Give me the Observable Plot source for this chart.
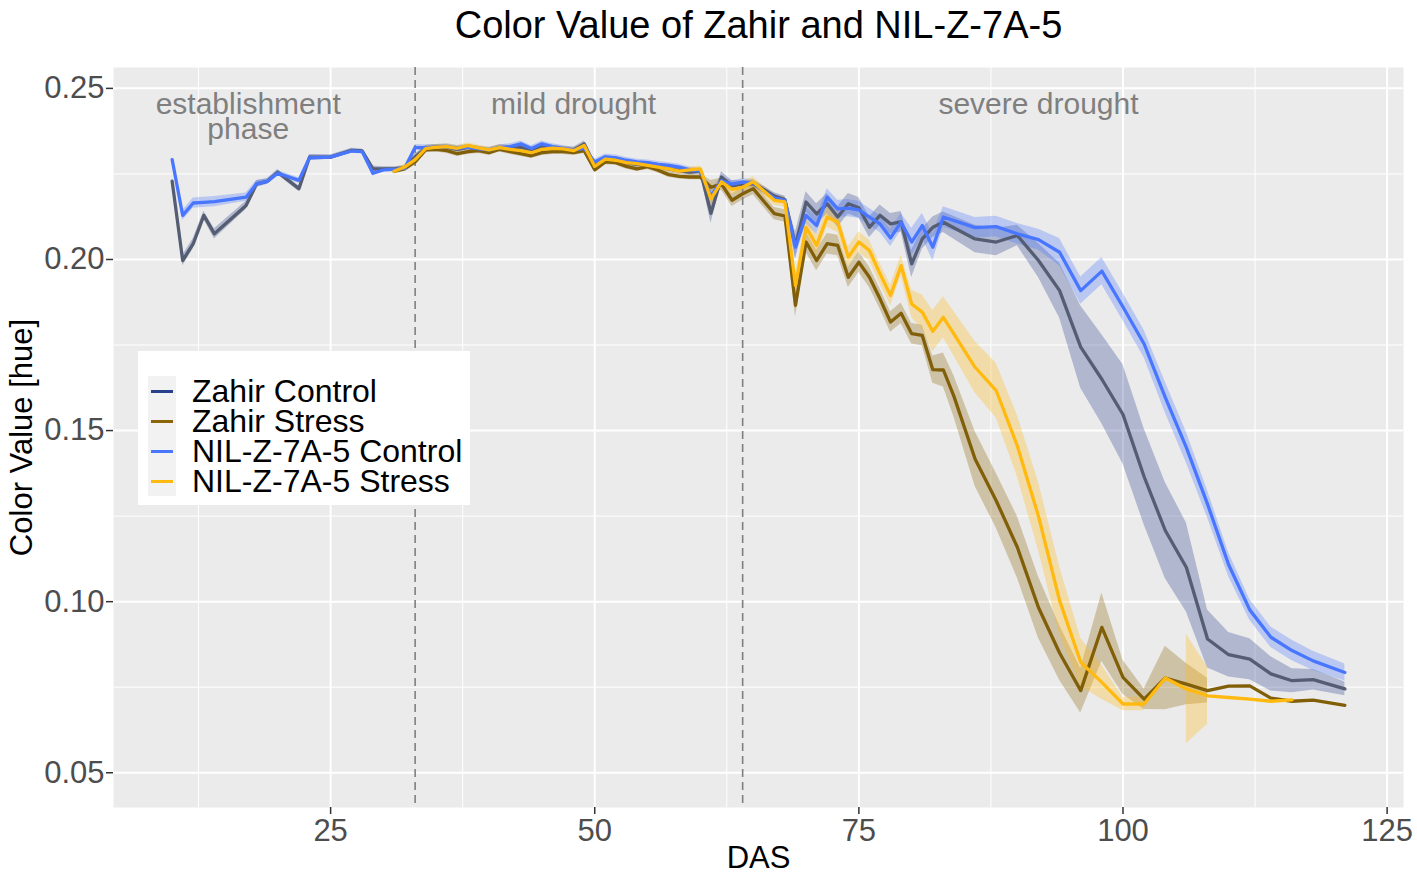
<!DOCTYPE html>
<html><head><meta charset="utf-8">
<script src="https://cdn.jsdelivr.net/npm/d3@7"></script>
<script src="https://cdn.jsdelivr.net/npm/@observablehq/plot@0.6"></script>
<style>
html,body{margin:0;padding:0;background:#fff;}
#wrap{position:relative;width:1417px;height:879px;font-family:"Liberation Sans",Arial,sans-serif;}
#wrap svg{display:block;}
#legend{position:absolute;left:138px;top:351px;width:332px;height:154px;background:#fff;}
#legend .keybg{position:absolute;left:10px;top:25px;width:28px;height:120px;background:#F2F2F2;}
#legend .row{position:absolute;left:0;height:30px;width:332px;}
#legend .sw{position:absolute;left:13px;top:13.5px;width:22px;height:3px;}
#legend .lab{position:absolute;left:54px;top:0;height:30px;line-height:30px;font-size:32px;color:#000;white-space:nowrap;}
</style></head>
<body><div id="wrap"></div>
<script>
const das = [10,11,12,13,14,17,18,19,20,22,23,25,27,28,29,30,31,32,
 33,34,35,36,37,38,39,40,41,42,43,44,45,46,47,48,49,50,51,52,53,54,55,56,57,58,59,60,61,62,63,64,65,66,67,68,69,70,71,72,73,74,75,76,77,78,79,80,81,82,83,84,
 86,88,90,92,94,96,98,100,102,104,106,108,110,112,114,116,118,121];

const zahirControl = [.2229,.1997,.2046,.2129,.2075,.2158,.2221,.2228,.2255,.2207,.2299,.2299,.2319,.2317,.2265,.2265,.2265,.2268,
 .2300,.2325,.2328,.2328,.2322,.2328,.2323,.2318,.2327,.2325,.2328,.2318,.2332,.2325,.2322,.2320,.2338,.2275,.2295,.2292,.2283,.2278,.2278,.2272,.2265,.2260,.2255,.2258,.2135,.2241,.2215,.2220,.2222,.2205,.2185,.2175,.2040,.2168,.2133,.2163,.2124,.2163,.2151,.2094,.2129,.2104,.2110,.1987,.2060,.2094,.2109,null,
 .2060,.2051,.2070,.1997,.1909,.1744,.1650,.1547,.1365,.1208,.1100,.0891,.0845,.0832,.0789,.0769,.0772,.0745];
const zahirStress = [null,null,null,null,null,null,null,null,null,null,null,null,null,null,null,null,.2258,.2265,
 .2285,.2320,.2322,.2318,.2309,.2315,.2318,.2312,.2322,.2315,.2309,.2303,.2312,.2315,.2315,.2312,.2318,.2262,.2285,.2283,.2272,.2265,.2271,.2261,.2248,.2243,.2241,.2241,.2211,.2220,.2173,.2192,.2207,.2170,.2134,.2127,.1866,.2051,.1997,.2046,.2041,.1948,.1992,.1948,.1885,.1817,.1843,.1783,.1778,.1678,.1677,.1600,
 .1417,.1295,.1159,.0983,.0850,.0740,.0925,.0779,.0715,.0777,.0759,.0740,.0753,.0754,.0718,.0709,.0712,.0697];
const nilControl = [.2292,.2129,.2165,.2167,.2169,.2182,.2221,.2228,.2252,.2231,.2297,.2299,.2317,.2315,.2252,.2262,.2263,.2266,
 .2327,.2327,.2328,.2330,.2325,.2328,.2323,.2320,.2327,.2330,.2338,.2324,.2338,.2330,.2325,.2320,.2325,.2285,.2300,.2297,.2290,.2285,.2283,.2278,.2275,.2270,.2262,.2258,.2185,.2230,.2220,.2226,.2224,.2200,.2180,.2173,.2036,.2129,.2099,.2182,.2148,.2150,.2145,.2124,.2104,.2063,.2109,.2051,.2099,.2036,.2124,null,
 .2093,.2096,.2075,.2058,.2021,.1909,.1966,.1861,.1753,.1597,.1450,.1285,.1108,.0976,.0896,.0857,.0827,.0793];
const nilStress = [null,null,null,null,null,null,null,null,null,null,null,null,null,null,null,null,.2258,.2270,
 .2292,.2324,.2328,.2330,.2325,.2333,.2326,.2320,.2327,.2322,.2318,.2312,.2322,.2325,.2323,.2318,.2333,.2272,.2293,.2290,.2283,.2280,.2275,.2270,.2265,.2258,.2262,.2265,.2177,.2227,.2205,.2211,.2227,.2200,.2173,.2168,.1924,.2094,.2041,.2124,.2109,.2007,.2051,.2026,.1958,.1895,.1982,.1870,.1846,.1790,.1831,null,
 .1685,.1617,.1455,.1250,.1003,.0823,.0764,.0701,.0701,.0777,.0745,.0725,.0720,.0715,.0709,.0713,null,null];

// ribbon half-widths (standard error)
const zahirControlSe = [.0005,.0015,.0015,.0012,.0015,.0012,.001,.0008,.0008,.0008,.0008,.0006,.0006,.0006,.0008,.0006,.0006,.0006,
 .0008,.0008,.0008,.0008,.0008,.0008,.0008,.0008,.0008,.0008,.0008,.0008,.0008,.0008,.0008,.0008,.0008,.0008,.0008,.0008,.0008,.0008,.0008,.0008,.0008,.0008,.0008,.0008,.003,.0015,.0015,.001,.001,.001,.001,.001,.004,.003,.003,.003,.003,.003,.003,.003,.003,.003,.003,.004,.003,.003,.003,null,
 .004,.004,.003,.005,.008,.012,.013,.0145,.014,.014,.013,.0085,.0065,.006,.005,.0035,.003,.002];
const zahirStressSe = [null,null,null,null,null,null,null,null,null,null,null,null,null,null,null,null,.0008,.0008,
 .0008,.0008,.0008,.0008,.0008,.0008,.0008,.0008,.0008,.0008,.0008,.0008,.0008,.0008,.0008,.0008,.0008,.0008,.0008,.0008,.0008,.0008,.0008,.0008,.0008,.0008,.0008,.0008,.002,.0018,.0018,.0018,.0018,.0018,.0018,.0018,.0035,.003,.003,.003,.003,.003,.003,.003,.003,.003,.003,.003,.003,.004,.005,.006,
 .008,.008,.009,.009,.008,.0065,.010,.005,.003,.0093,.006,.0036,null,null,null,null,null,null];
const nilControlSe = [.0008,.0015,.0015,.0015,.0015,.0012,.001,.0008,.0008,.0008,.0008,.0006,.0006,.0006,.0008,.0006,.0006,.0006,
 .0008,.0008,.0008,.0008,.0008,.0008,.0008,.0008,.0008,.0008,.0008,.0008,.0008,.0008,.0008,.0008,.0008,.0008,.0008,.0008,.0008,.0008,.0008,.0008,.0008,.0008,.0008,.0008,.002,.001,.001,.001,.001,.001,.001,.001,.003,.0025,.0025,.0025,.0025,.0025,.0025,.0025,.0025,.0025,.0025,.004,.0035,.004,.003,null,
 .003,.003,.003,.003,.004,.004,.004,.004,.004,.0045,.0045,.004,.0035,.003,.003,.003,.0028,.0025];
const nilStressSe = [null,null,null,null,null,null,null,null,null,null,null,null,null,null,null,null,.0008,.0008,
 .0008,.0008,.0008,.0008,.0008,.0008,.0008,.0008,.0008,.0008,.0008,.0008,.0008,.0008,.0008,.0008,.0008,.0008,.0008,.0008,.0008,.0008,.0008,.0008,.0008,.0008,.0008,.0008,.002,.0015,.0015,.0015,.0015,.0015,.0015,.0015,.003,.003,.003,.003,.003,.003,.003,.003,.003,.003,.003,.004,.005,.006,.006,null,
 .0075,.008,.009,.010,.010,.007,.005,.002,.002,null,.016,.0083,null,null,null,null,null,null];

const seriesNames = ["Zahir Control", "Zahir Stress", "NIL-Z-7A-5 Control", "NIL-Z-7A-5 Stress"];
const keyColors = ["#27408B", "#8B6508", "#4876FF", "#FFB90F"];
const lineColors = ["#555D72", "#815E08", "#4876FF", "#FFB90F"];

const xTicks = [25, 50, 75, 100, 125];
const xMinor = [12.5, 37.5, 62.5, 87.5, 112.5];
const yTicks = [0.05, 0.10, 0.15, 0.20, 0.25];
const yMinor = [0.075, 0.125, 0.175, 0.225];
const phaseBreaks = [33, 64];
const phaseLabels = ["establishment\nphase", "mild drought", "severe drought"];
const phaseLabelX = [17.2, 48, 92];
const phaseLabelY = [0.2477, 0.2477, 0.2477];
const titleText = "Color Value of Zahir and NIL-Z-7A-5";
const xTitle = "DAS";
const yTitle = "Color Value [hue]";

const means = [zahirControl, zahirStress, nilControl, nilStress];
const ses = [zahirControlSe, zahirStressSe, nilControlSe, nilStressSe];

const ribbonMarks = [], lineMarks = [];
seriesNames.forEach((name, k) => {
  const rows = das.map((d, i) => ({das: d, mean: means[k][i], se: ses[k][i]})).filter(r => r.mean != null);
  ribbonMarks.push(Plot.areaY(rows, {
    x: "das",
    y1: r => r.se == null ? null : r.mean - r.se,
    y2: r => r.se == null ? null : r.mean + r.se,
    fill: keyColors[k], fillOpacity: 0.3
  }));
  lineMarks.push(Plot.line(rows, {x: "das", y: "mean", stroke: lineColors[k], strokeWidth: 3.3, strokeLinejoin: "round"}));
});

const font = '"Liberation Sans", Arial, sans-serif';
const chart = Plot.plot({
  width: 1417, height: 879,
  marginLeft: 113, marginRight: 14, marginTop: 67, marginBottom: 72,
  style: {fontFamily: font, background: "#fff", overflow: "visible"},
  x: {domain: [4.45, 126.55]},
  y: {domain: [0.03985, 0.2561]},
  marks: [
    Plot.frame({fill: "#EBEBEB", stroke: null}),
    Plot.gridX(xMinor, {stroke: "#fff", strokeOpacity: 1, strokeWidth: 1}),
    Plot.gridY(yMinor, {stroke: "#fff", strokeOpacity: 1, strokeWidth: 1}),
    Plot.gridX(xTicks, {stroke: "#fff", strokeOpacity: 1, strokeWidth: 2}),
    Plot.gridY(yTicks, {stroke: "#fff", strokeOpacity: 1, strokeWidth: 2}),
    ...ribbonMarks,
    Plot.ruleX(phaseBreaks, {stroke: "#7F7F7F", strokeWidth: 1.6, strokeDasharray: "8,5"}),
    ...lineMarks,
    Plot.text(phaseLabels, {x: (d, i) => phaseLabelX[i], y: (d, i) => phaseLabelY[i], text: d => d,
      lineAnchor: "top", lineHeight: 0.83, fontSize: 30, fill: "#7F7F7F"}),
    Plot.axisX({ticks: xTicks, tickSize: 7, tickPadding: 4, fontSize: 31, fill: "#4D4D4D", stroke: "#333", strokeWidth: 1.5, label: null}),
    Plot.axisY({ticks: yTicks, tickFormat: d3.format(".2f"), tickSize: 7, tickPadding: 2, fontSize: 31, fill: "#4D4D4D", stroke: "#333", strokeWidth: 1.5, label: null}),
    Plot.text([xTitle], {frameAnchor: "bottom", lineAnchor: "middle", textAnchor: "middle", dy: 51, text: d => d, fontSize: 31, fill: "#000"}),
    Plot.text([yTitle], {frameAnchor: "left", lineAnchor: "middle", textAnchor: "middle", dx: -91, rotate: -90, text: d => d, fontSize: 31, fill: "#000"}),
    Plot.text([titleText], {frameAnchor: "top", lineAnchor: "middle", textAnchor: "middle", dy: -42, text: d => d, fontSize: 38, fill: "#000"})
  ]
});
const wrap = document.getElementById("wrap");
wrap.appendChild(chart);

// legend overlay
const lg = document.createElement("div");
lg.id = "legend";
const kb = document.createElement("div"); kb.className = "keybg"; lg.appendChild(kb);
seriesNames.forEach((name, k) => {
  const row = document.createElement("div");
  row.className = "row"; row.style.top = (25 + 30 * k) + "px";
  const sw = document.createElement("div"); sw.className = "sw"; sw.style.background = keyColors[k];
  const lab = document.createElement("div"); lab.className = "lab"; lab.textContent = name;
  row.appendChild(sw); row.appendChild(lab); lg.appendChild(row);
});
wrap.appendChild(lg);
</script>
</body></html>
